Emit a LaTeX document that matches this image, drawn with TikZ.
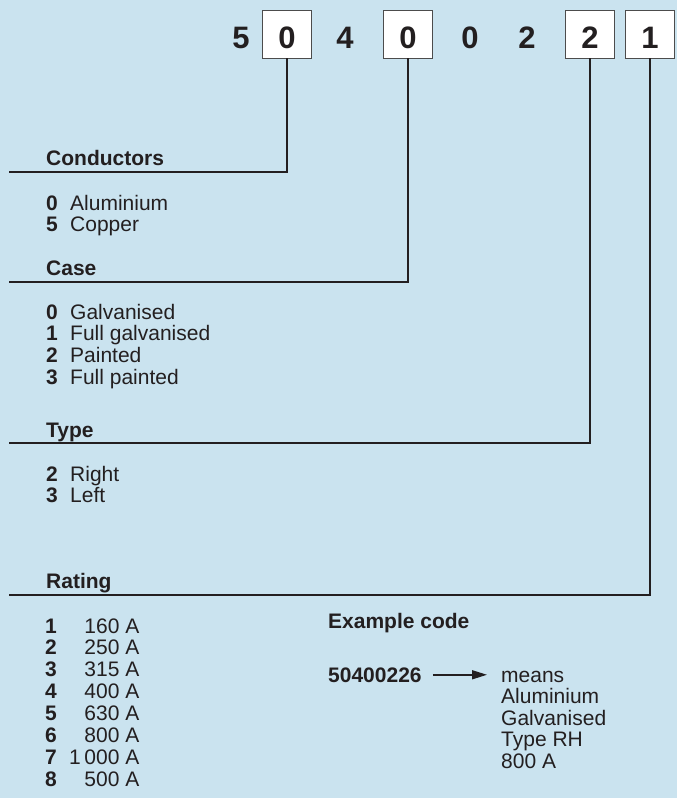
\documentclass[tikz,border=0pt]{standalone}
\usepackage{fontspec}
\setmainfont{Liberation Sans}
\usepackage{xcolor}
\usetikzlibrary{arrows.meta}
\definecolor{panel}{RGB}{202,227,239}
\definecolor{ink}{RGB}{35,31,32}

\begin{document}
\begin{tikzpicture}[x=1pt, y=-1pt,
  digit/.style={font=\fontsize{31}{31}\selectfont\bfseries, text=ink, inner sep=0pt,
                text height=29pt, text depth=0pt, minimum width=49pt, minimum height=48pt},
  digitbox/.style={digit, draw=black!70, line width=0.8pt, fill=white},
  conn/.style={draw=ink, line width=2.2pt},
  head/.style={font=\fontsize{21}{21}\selectfont\bfseries, text=ink, anchor=base west, inner sep=0pt},
  item/.style={font=\fontsize{21}{21}\selectfont, text=ink, anchor=base west, inner sep=0pt},
  key/.style={item, font=\fontsize{21}{21}\selectfont\bfseries},
  ar/.style={-{Triangle[length=15pt, width=9pt]}, draw=ink, line width=1.5pt}
]
\fill[panel] (0,0) rectangle (677,798);
\useasboundingbox (0,0) rectangle (677,798);

% --- code digits ---------------------------------------------------------
\node[digit]    (d1) at (241,34) {5};
\node[digitbox] (d2) at (287,34) {0};
\node[digit]    (d3) at (345,34) {4};
\node[digitbox] (d4) at (408,34) {0};
\node[digit]    (d5) at (470,34) {0};
\node[digit]    (d6) at (527,34) {2};
\node[digitbox] (d7) at (590,34) {2};
\node[digitbox] (d8) at (650,34) {1};

\coordinate (cond) at (9,172);
\coordinate (case) at (9,282);
\coordinate (type) at (9,443);
\coordinate (rate) at (9,595);

\draw[conn] (d2.south) |- (cond);
\draw[conn] (d4.south) |- (case);
\draw[conn] (d7.south) |- (type);
\draw[conn] (d8.south) |- (rate);

% --- conductors ----------------------------------------------------------
\node[head] (hcond) at (46,165) {Conductors};
\foreach \k/\txt [count=\i from 0] in {0/Aluminium, 5/Copper} {
  \node[key]  (condk\i) at (46,210+21*\i) {\k};
  \node[item] (condt\i) at (70,210+21*\i) {\txt};
}

% --- case ----------------------------------------------------------------
\node[head] (hcase) at (46,275) {Case};
\foreach \k/\txt [count=\i from 0] in {0/Galvanised, 1/Full galvanised, 2/Painted, 3/Full painted} {
  \node[key]  (casek\i) at (46,319+21.7*\i) {\k};
  \node[item] (caset\i) at (70,319+21.7*\i) {\txt};
}

% --- type ----------------------------------------------------------------
\node[head] (htype) at (46,437) {Type};
\foreach \k/\txt [count=\i from 0] in {2/Right, 3/Left} {
  \node[key]  (typek\i) at (46,481+21*\i) {\k};
  \node[item] (typet\i) at (70,481+21*\i) {\txt};
}

% --- rating --------------------------------------------------------------
\node[head] (hrate) at (46,588) {Rating};
\foreach \k/\txt [count=\i from 0] in {1/160 A, 2/250 A, 3/315 A, 4/400 A,
                                       5/630 A, 6/800 A, 7/1\,000 A, 8/500 A} {
  \node[key]  (ratek\i) at (45,633+21.9*\i) {\k};
  \node[item, anchor=base east] (ratet\i) at (139.5,633+21.9*\i) {\txt};
}

% --- example -------------------------------------------------------------
\node[head] (hex) at (328,628) {Example code};
\node[key]  (code) at (328,682) {50400226};
\foreach \txt [count=\i from 0] in {means, Aluminium, Galvanised, Type RH, 800 A} {
  \node[item] (ex\i) at (501,682+21.6*\i) {\txt};
}
\draw[ar, shorten <=11pt, shorten >=14pt] (code.east) -- (code.east -| ex0.west);
\end{tikzpicture}
\end{document}
